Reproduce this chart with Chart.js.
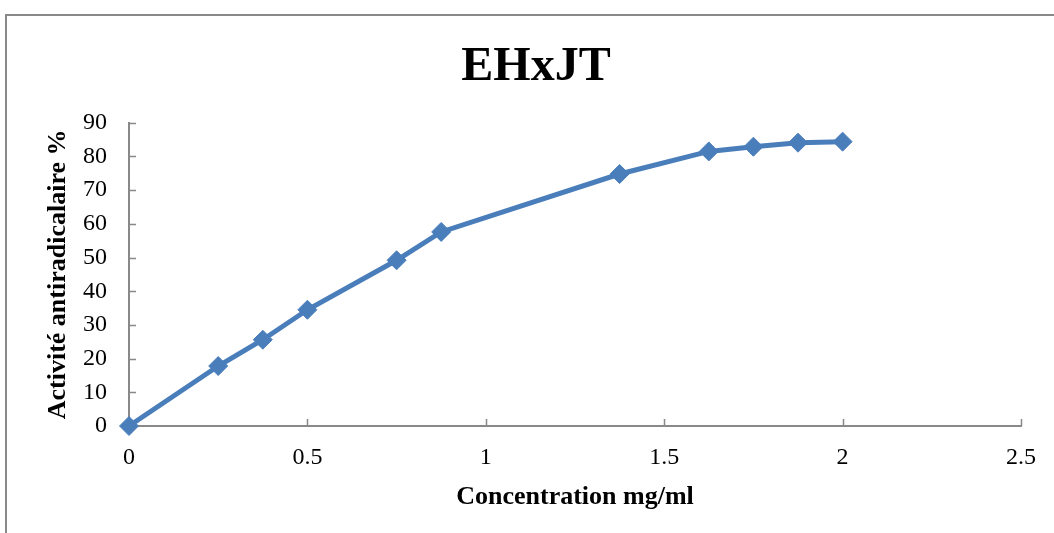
<!DOCTYPE html>
<html>
<head>
<meta charset="utf-8">
<script src="https://cdn.jsdelivr.net/npm/chart.js@4/dist/chart.umd.min.js"></script>
<style>
  html, body { margin: 0; padding: 0; background: #ffffff; }
  #wrap { position: relative; width: 1054px; height: 533px; }
</style>
</head>
<body>
<div id="wrap"><canvas id="c" width="1054" height="533"></canvas></div>
<script>
// ---- data ----
const concentrations = [0, 0.25, 0.375, 0.5, 0.75, 0.875, 1.375, 1.625, 1.75, 1.875, 2];
const activity = [0, 17.8, 25.6, 34.5, 49.2, 57.6, 74.8, 81.5, 82.9, 84.1, 84.4];
const xTicks = [0, 0.5, 1, 1.5, 2, 2.5];
const yTicks = [0, 10, 20, 30, 40, 50, 60, 70, 80, 90];
const chartTitle = 'EHxJT';
const xTitle = 'Concentration mg/ml';
const yTitle = 'Activité antiradicalaire %';

const points = concentrations.map((x, i) => ({ x: x, y: activity[i] }));
const SERIF = '"Liberation Serif", "Times New Roman", serif';
const AXIS = '#898989';
const BLUE = '#4a7ebb';

const framePlugin = {
  id: 'frame',
  beforeDraw(chart) {
    const ctx = chart.ctx;
    ctx.save();
    ctx.strokeStyle = AXIS;
    ctx.lineWidth = 2;
    ctx.beginPath();
    ctx.moveTo(6, 540);
    ctx.lineTo(6, 15);
    ctx.lineTo(1060, 15);
    ctx.stroke();
    ctx.restore();
  }
};

const innerTicks = {
  id: 'innerTicks',
  beforeDatasetsDraw(chart) {
    const ctx = chart.ctx;
    const xs = chart.scales.x, ys = chart.scales.y;
    const a = chart.chartArea;
    ctx.save();
    ctx.strokeStyle = AXIS;
    ctx.lineWidth = 1.5;
    ctx.beginPath();
    yTicks.forEach(v => {
      const py = Math.round(ys.getPixelForValue(v)) + 0.5;
      ctx.moveTo(a.left, py);
      ctx.lineTo(a.left + 7, py);
    });
    xTicks.forEach(v => {
      const px = Math.round(xs.getPixelForValue(v)) + 0.5;
      ctx.moveTo(px, a.bottom);
      ctx.lineTo(px, a.bottom - 7);
    });
    ctx.stroke();
    ctx.restore();
  }
};

new Chart(document.getElementById('c'), {
  type: 'scatter',
  data: {
    datasets: [{
      data: points,
      showLine: true,
      tension: 0,
      borderColor: BLUE,
      backgroundColor: BLUE,
      borderWidth: 5,
      pointStyle: 'rectRot',
      pointRadius: 9.5,
      pointBorderWidth: 1,
      pointBackgroundColor: BLUE,
      pointBorderColor: BLUE,
      clip: false
    }]
  },
  options: {
    responsive: false,
    animation: false,
    devicePixelRatio: 1,
    layout: { padding: { top: 0, left: 51, right: 33, bottom: 0 } },
    plugins: {
      legend: { display: false },
      tooltip: { enabled: false },
      title: {
        display: true,
        text: chartTitle,
        color: '#000',
        font: { family: SERIF, size: 48, weight: 'bold', lineHeight: 1.2 },
        padding: { top: 39, bottom: 26.2 }
      }
    },
    scales: {
      x: {
        type: 'linear',
        min: 0, max: 2.5,
        afterBuildTicks(s) { s.ticks = xTicks.map(v => ({ value: v })); },
        afterFit(s) { s.height = 107; },
        ticks: {
          color: '#000',
          padding: 17,
          font: { family: SERIF, size: 24, lineHeight: 1.2 },
          callback: v => String(v)
        },
        grid: { display: true, drawOnChartArea: false, drawTicks: false },
        border: { display: true, color: AXIS, width: 2 },
        title: {
          display: true,
          text: xTitle,
          color: '#000',
          font: { family: SERIF, size: 26, weight: 'bold', lineHeight: 1.2 },
          padding: { top: 0, bottom: 20 }
        }
      },
      y: {
        type: 'linear',
        min: 0, max: 90,
        afterBuildTicks(s) { s.ticks = yTicks.map(v => ({ value: v })); },
        afterFit(s) { s.width = 78; },
        ticks: {
          color: '#000',
          padding: 22,
          font: { family: SERIF, size: 24, lineHeight: 1.2 },
          callback: v => String(v)
        },
        grid: { display: true, drawOnChartArea: false, drawTicks: false },
        border: { display: true, color: AXIS, width: 2 },
        title: {
          display: true,
          text: yTitle,
          color: '#000',
          font: { family: SERIF, size: 26, weight: 'bold', lineHeight: 1.2 },
          padding: { top: -8.6, bottom: 0 }
        }
      }
    }
  },
  plugins: [framePlugin, innerTicks]
});
</script>
</body>
</html>
